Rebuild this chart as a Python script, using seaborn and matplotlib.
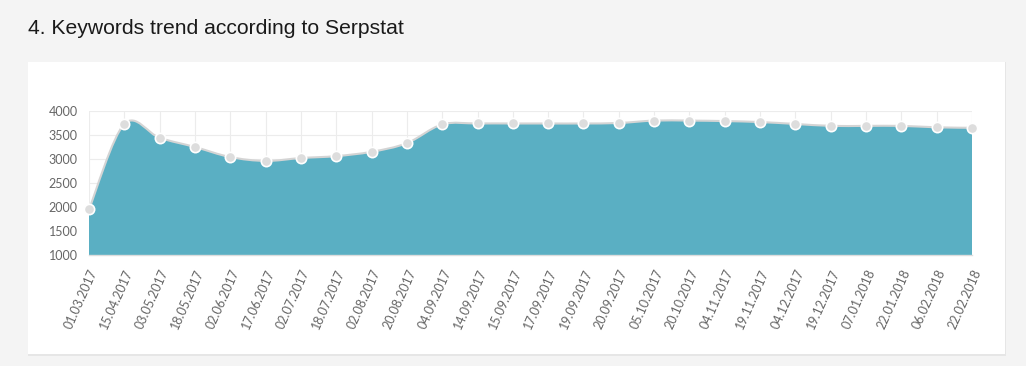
import numpy as np
import pandas as pd
import matplotlib
matplotlib.use("Agg")
import matplotlib.pyplot as plt
from matplotlib.path import Path
from matplotlib.patches import PathPatch, Rectangle
import seaborn as sns

# ==================== ДАННЫЕ ====================
dates = ["01.03.2017", "15.04.2017", "03.05.2017", "18.05.2017", "02.06.2017",
         "17.06.2017", "02.07.2017", "18.07.2017", "02.08.2017", "20.08.2017",
         "04.09.2017", "14.09.2017", "15.09.2017", "17.09.2017", "19.09.2017",
         "20.09.2017", "05.10.2017", "20.10.2017", "04.11.2017", "19.11.2017",
         "04.12.2017", "19.12.2017", "07.01.2018", "22.01.2018", "06.02.2018",
         "22.02.2018"]
keywords = [1950, 3730, 3440, 3250, 3040, 2960, 3020, 3060, 3150, 3330,
            3720, 3740, 3740, 3740, 3740, 3750, 3800, 3800, 3790, 3770,
            3730, 3690, 3690, 3690, 3660, 3650]
y_ticks = [1000, 1500, 2000, 2500, 3000, 3500, 4000]

title = "4. Keywords trend according to Serpstat"

df = pd.DataFrame({"date": dates, "keywords": keywords})
df["pos"] = np.arange(len(df))

FILL = "#5aafc3"
TICK_COLOR = "#666666"

sns.set_style("white")
plt.rcParams["font.family"] = ["Lato", "DejaVu Sans"]

fig = plt.figure(figsize=(10.26, 3.66), dpi=100)
fig.patch.set_facecolor("#f4f4f4")

# белая карточка с лёгкой тенью (под осями)
W, H = 1026, 366
fig.patches.append(Rectangle((28 / W, 1 - 356 / H), 978 / W, 294 / H,
                             transform=fig.transFigure, facecolor="#e6e6e6",
                             edgecolor="none", zorder=-2))
fig.patches.append(Rectangle((28 / W, 1 - 354 / H), 977 / W, 292 / H,
                             transform=fig.transFigure, facecolor="white",
                             edgecolor="none", zorder=-1))

fig.text(28 / W, 1 - 28.5 / H, title, fontsize=15.2, color="#1a1a1a",
         family=["Liberation Sans", "DejaVu Sans"], va="center", ha="left")

ax = fig.add_axes([89 / W, 1 - 255 / H, 883 / W, 144 / H])
ax.set_facecolor("none")

# сглаженная кривая (Catmull-Rom -> Безье) через точки данных
x = df["pos"].to_numpy(dtype=float)
y = df["keywords"].to_numpy(dtype=float)
px = np.concatenate([[x[0]], x, [x[-1]]])
py = np.concatenate([[y[0]], y, [y[-1]]])
verts = [(x[0], y[0])]
codes = [Path.MOVETO]
for i in range(1, len(px) - 2):
    c1 = (px[i] + (px[i + 1] - px[i - 1]) / 6, py[i] + (py[i + 1] - py[i - 1]) / 6)
    c2 = (px[i + 1] - (px[i + 2] - px[i]) / 6, py[i + 1] - (py[i + 2] - py[i]) / 6)
    verts += [c1, c2, (px[i + 1], py[i + 1])]
    codes += [Path.CURVE4] * 3
curve = Path(verts, codes)
fill_path = Path(verts + [(x[-1], 1000), (x[0], 1000), (x[0], y[0])],
                 codes + [Path.LINETO, Path.LINETO, Path.CLOSEPOLY])
ax.add_patch(PathPatch(fill_path, facecolor=FILL, edgecolor="none", zorder=2))
ax.add_patch(PathPatch(curve, facecolor="none", edgecolor="#d4d4d4",
                       linewidth=1.5, zorder=3))

sns.scatterplot(data=df, x="pos", y="keywords", ax=ax, s=55, color="#dddddd",
                edgecolor="white", linewidth=1.2, zorder=4, clip_on=False)

ax.set_xlim(0, len(dates) - 1)
ax.set_ylim(1000, 4000)
ax.set_xticks(df["pos"])
ax.set_xticklabels(dates, rotation=66, ha="right", rotation_mode="anchor",
                   fontsize=9, color=TICK_COLOR)
ax.set_yticks(y_ticks)
ax.set_yticklabels([str(t) for t in y_ticks], fontsize=9, color=TICK_COLOR)
ax.tick_params(axis="both", length=5, width=0.8, color="#dddddd", pad=3)
ax.tick_params(axis="x", pad=4)
ax.grid(True, color="#ececec", linewidth=0.8, zorder=1)
ax.set_axisbelow(True)
ax.set_xlabel("")
ax.set_ylabel("")
for side in ["top", "right", "left"]:
    ax.spines[side].set_visible(False)
ax.spines["bottom"].set_color("#dddddd")
ax.spines["bottom"].set_linewidth(1)

plt.savefig("out.png", dpi=100, facecolor=fig.get_facecolor())
